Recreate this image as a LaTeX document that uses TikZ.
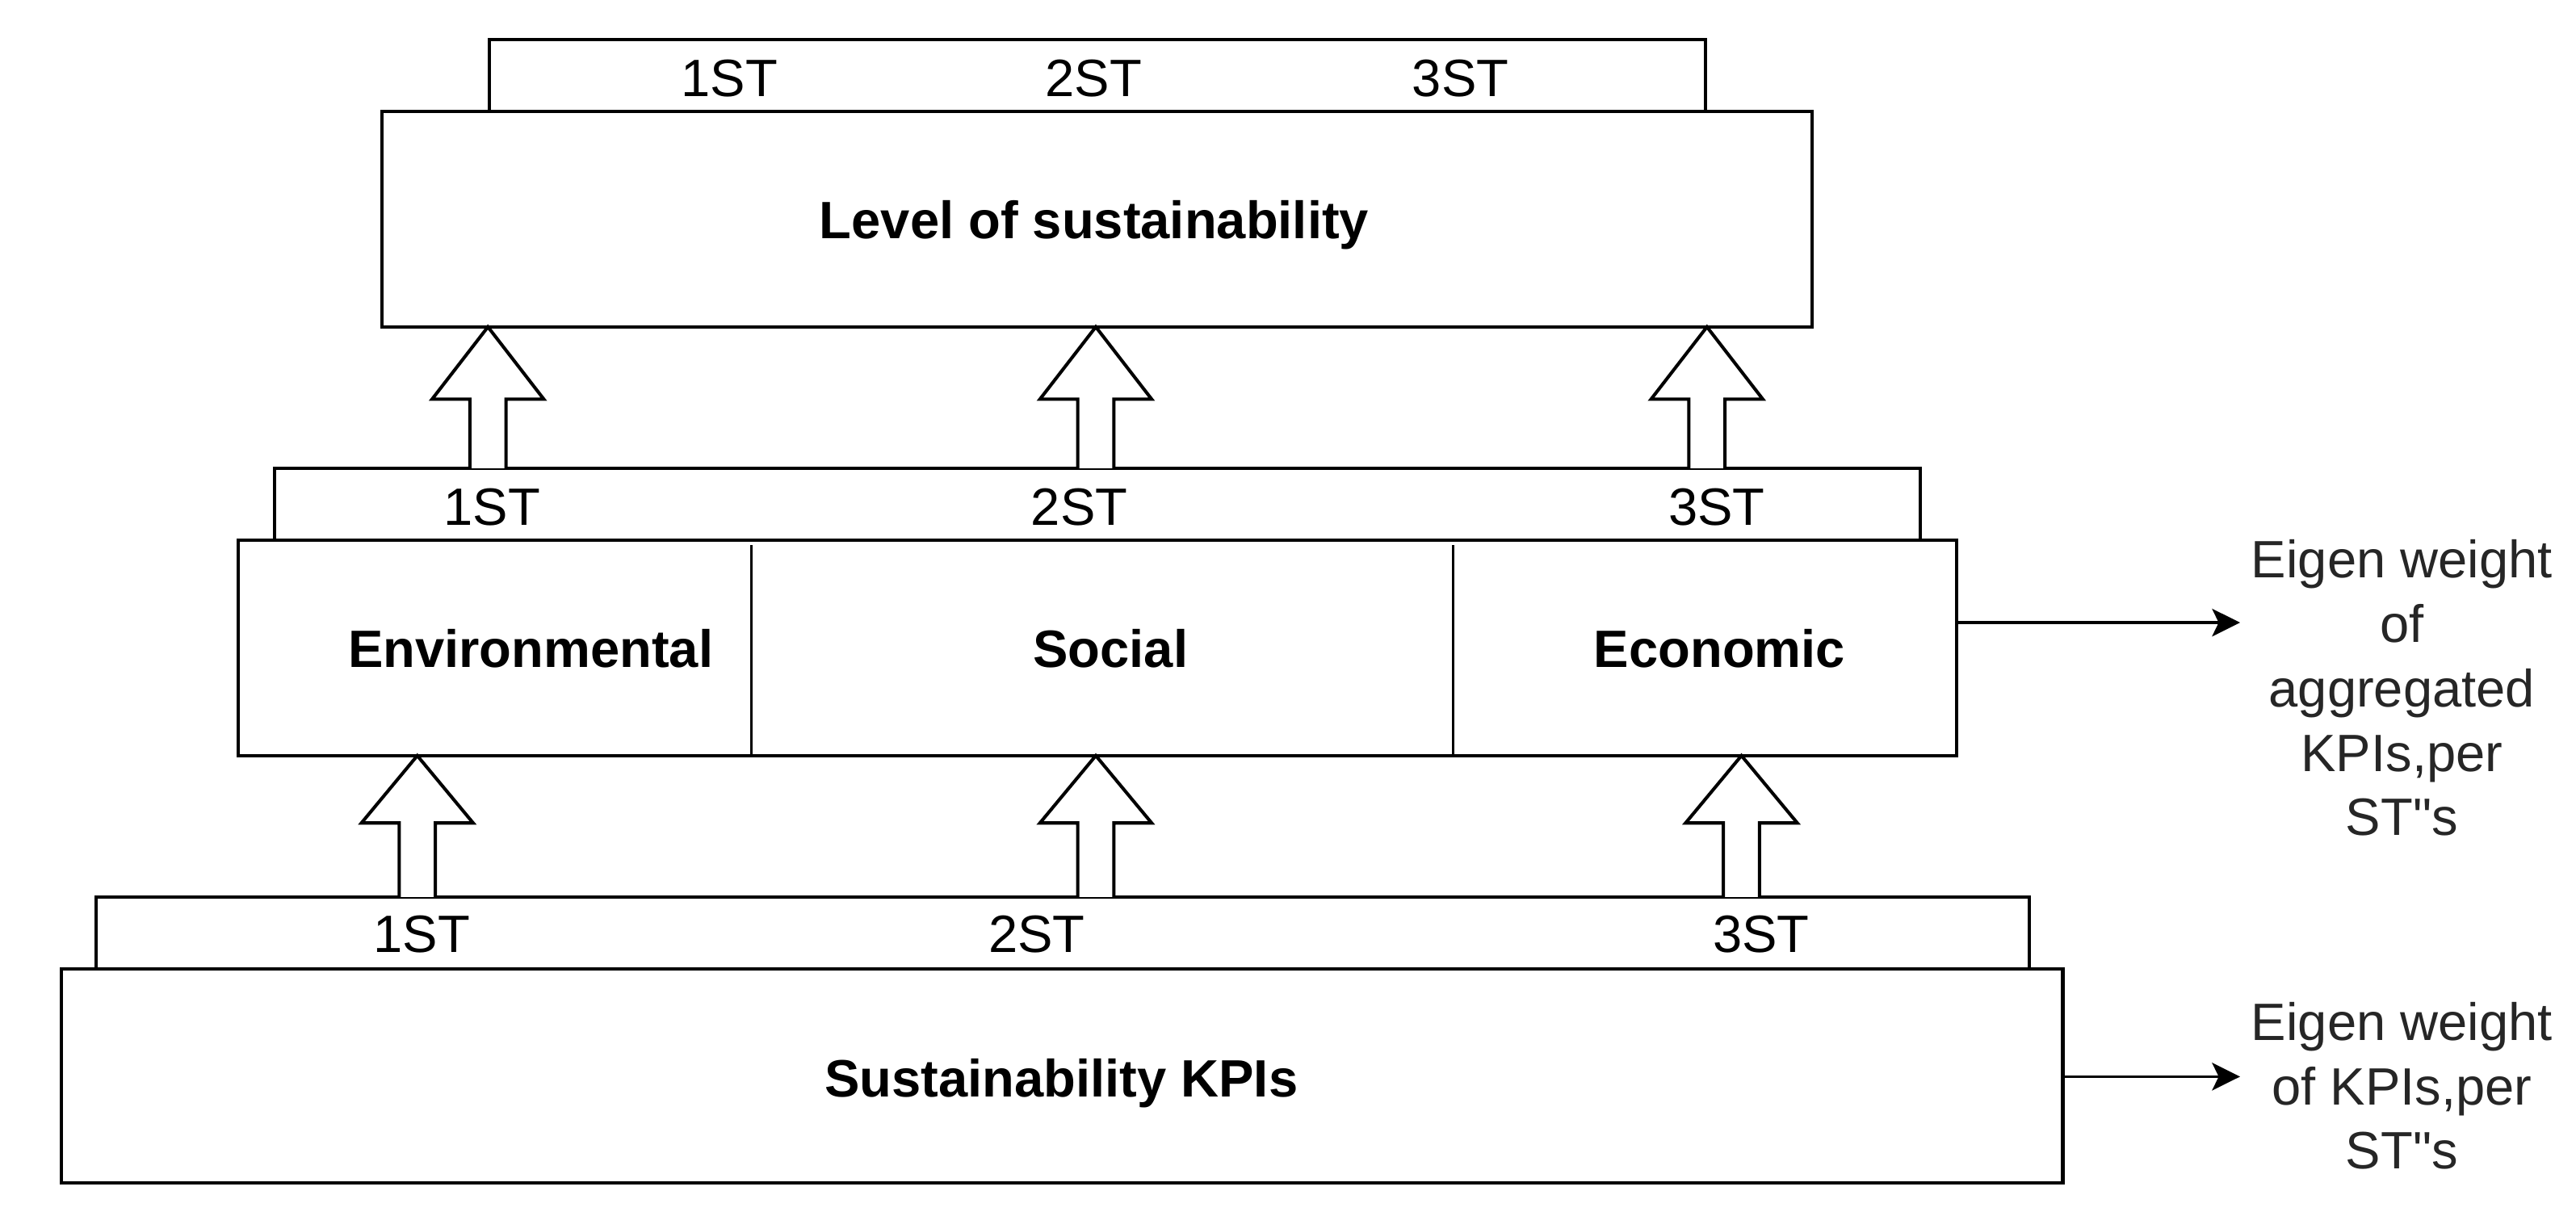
\documentclass[tikz,border=0pt]{standalone}
\usepackage{fontspec}
\setmainfont{Liberation Sans}[Ligatures=TeXOff]
\usetikzlibrary{arrows.meta}
\newcommand\rbox[5]{\node[box, minimum width={(#4-#2)*0.5pt}, minimum height={(#5-#3)*0.5pt}] (#1) at ({(#2+#4)/2},{(#3+#5)/2}) {};}
\newcommand\blockup[4]{\draw[barrow] ({#1-11},#4) -- ({#1-11},#3) -- ({#1-34},#3) -- (#1,#2) -- ({#1+34},#3) -- ({#1+11},#3) -- ({#1+11},#4);}
\begin{document}
\begin{tikzpicture}[x=0.5pt,y=-0.5pt,
  box/.style={draw, line width=1pt, fill=white, inner sep=0pt, outer sep=0pt},
  lab/.style={font=\fontsize{16}{19.6}\selectfont, inner sep=0pt, anchor=base},
  blab/.style={font=\fontsize{16}{19.6}\selectfont\bfseries, inner sep=0pt, anchor=base},
  side/.style={font=\fontsize{16}{19.6}\selectfont, inner sep=0pt, anchor=base, align=center, text=black!85},
  barrow/.style={draw, line width=1pt, fill=white, line join=miter},
  divider/.style={draw, line width=0.8pt},
  conn/.style={draw, line width=0.9pt, -{Stealth[length=8.5pt, width=8.4pt, inset=2pt]}}
]
\useasboundingbox (0,0) rectangle (1568,740);
% top level
\rbox{ts}{298}{24}{1038}{68}
\rbox{top}{232.5}{68}{1103}{199}
\node[lab] (t1) at (444,58.7) {1ST};
\node[lab] (t2) at (665.6,58.7) {2ST};
\node[lab] (t3) at (889,58.7) {3ST};
\node[blab] (lvl) at (666,145) {Level of sustainability};
% middle level
\rbox{ms}{167}{285}{1169}{329}
\rbox{mid}{145}{329}{1191}{460}
\draw[divider] (457.5,332) -- (457.5,460);
\draw[divider] (884.5,332) -- (884.5,460);
\node[lab] (m1) at (299.5,319.6) {1ST};
\node[lab] (m2) at (657,319.6) {2ST};
\node[lab] (m3) at (1045,319.6) {3ST};
\node[blab] (env) at (323,406) {Environmental};
\node[blab] (soc) at (676,406) {Social};
\node[blab] (eco) at (1046.7,406) {Economic};
% bottom level
\rbox{bs}{58.7}{546}{1235}{590}
\rbox{bot}{37.5}{590}{1255.6}{720.3}
\node[lab] (b1) at (256.8,580) {1ST};
\node[lab] (b2) at (631,580) {2ST};
\node[lab] (b3) at (1072,580) {3ST};
\node[blab] (kpi) at (646,667.6) {Sustainability KPIs};
% block arrows
\blockup{297}{199}{243}{285}
\blockup{667}{199}{243}{285}
\blockup{1039}{199}{243}{285}
\blockup{254}{460}{501}{546}
\blockup{667}{460}{501}{546}
\blockup{1060}{460}{501}{546}
% side arrows and texts
\coordinate (e1) at (1363.5,379);
\coordinate (e2) at (1363.5,655.4);
\draw[conn] (mid.east |- e1) -- (e1);
\draw[conn] (bot.east |- e2) -- (e2);
\node[side] (w1) at (1462,508.7) {Eigen weight\\of\\aggregated\\KPIs,per\\ST"s};
\node[side] (w2) at (1462,711.7) {Eigen weight\\of KPIs,per\\ST"s};
\end{tikzpicture}
\end{document}
